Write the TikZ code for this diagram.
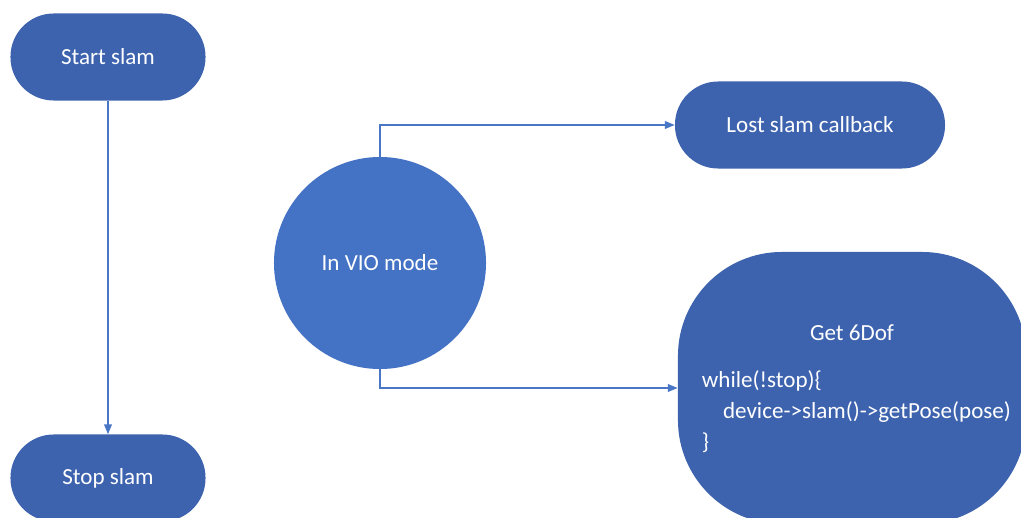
\documentclass[tikz,border=0pt]{standalone}
\usepackage{fontspec}
\setmainfont{Carlito}
\usetikzlibrary{arrows.meta}
\definecolor{termblue}{HTML}{3D63AE}
\definecolor{vioblue}{HTML}{4472C4}
\definecolor{lineblue}{HTML}{4A76C6}
\tikzset{
  term/.style={fill=termblue, draw=none, text=white, minimum width=4.875cm, minimum height=2.175cm, rounded corners=1.08cm, font=\fontsize{16.4}{20}\selectfont},
  link/.style={draw=lineblue, line width=1pt, -{Triangle[length=7pt, width=5.5pt]}},
  txt/.style={text=white, font=\fontsize{16.4}{22}\selectfont}
}
\begin{document}
\begin{tikzpicture}[x=0.025cm,y=-0.025cm]
\useasboundingbox (0,0) rectangle (1021,518);
\node[term] (start) at (108,57) {Start slam};
\node[term] (stop) at (108,478) {Stop slam};
\node[circle, fill=vioblue, text=white, minimum size=5.3cm, inner sep=0pt, font=\fontsize{16.4}{20}\selectfont] (vio) at (380,263) {In VIO mode};
\node[term, minimum width=6.75cm] (lost) at (810,125) {Lost slam callback};
\node[fill=termblue, minimum width=8.7cm, minimum height=6.8cm, rounded corners=2.6cm] (pose) at (852,388) {};
\node[txt] (posetitle) at (852,333) {Get 6Dof};
\node[txt, align=left, anchor=west] (posecode) at (697,412) {while(!stop)\{\\\hspace*{15pt}device->slam()->getPose(pose)\\\}};
\draw[link] (start) -- (stop);
\draw[link] (vio.north) |- (lost.west);
\draw[link] (vio.south) |- (pose.west);
\end{tikzpicture}
\end{document}
